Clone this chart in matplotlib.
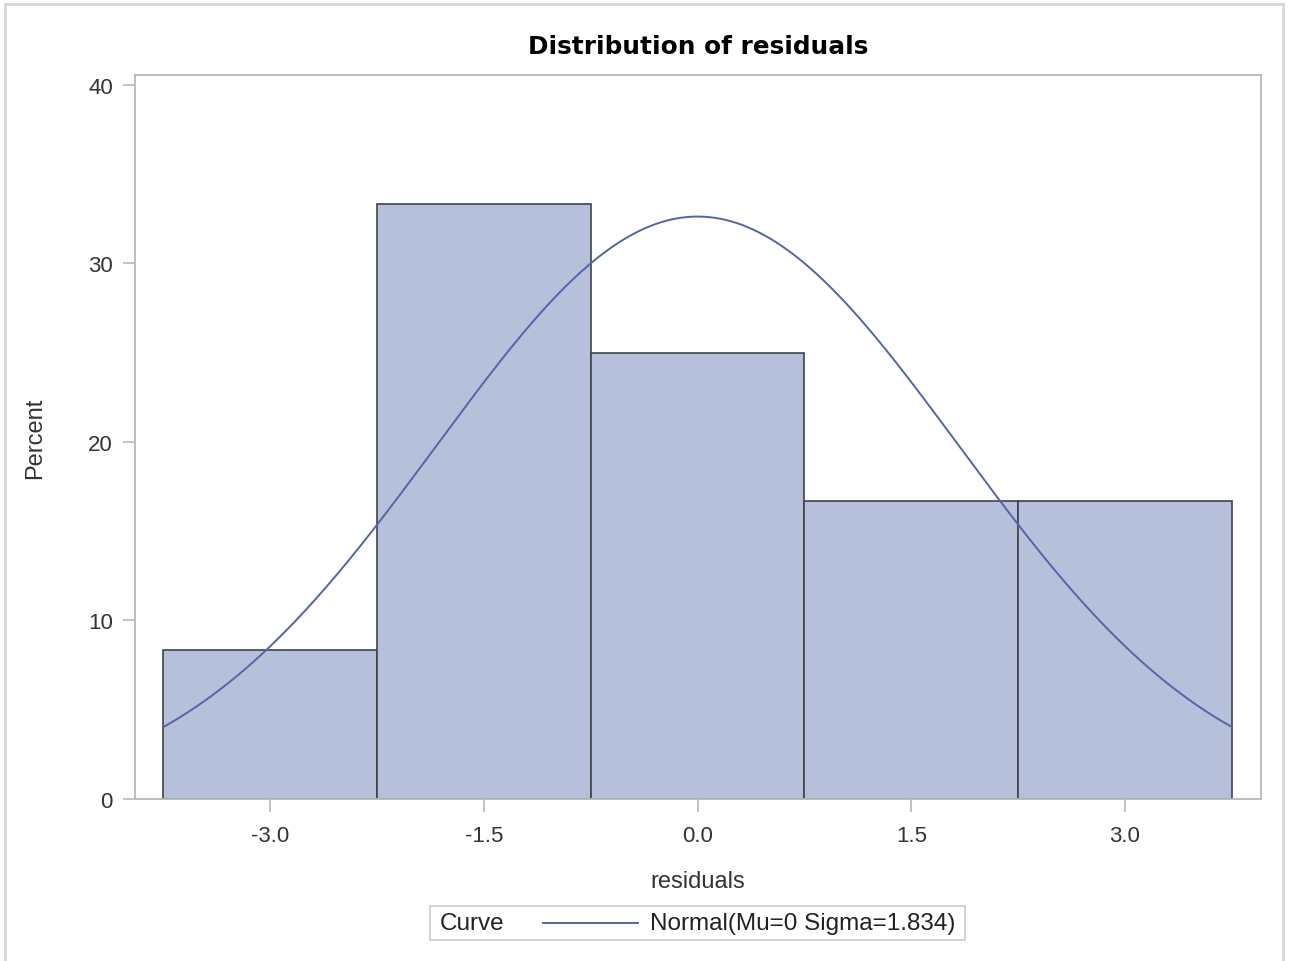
import numpy as np
import matplotlib
matplotlib.use("Agg")
import matplotlib.pyplot as plt
from matplotlib.lines import Line2D
from matplotlib.offsetbox import AnchoredOffsetbox, HPacker, TextArea, DrawingArea

# histogram of residuals (bin midpoints, percent of obs)
midpoints = [-3.0, -1.5, 0.0, 1.5, 3.0]
percents = [8.333, 33.333, 25.0, 16.667, 16.667]
bin_width = 1.5
mu = 0.0
sigma = 1.834
x_ticks = [-3.0, -1.5, 0.0, 1.5, 3.0]
y_ticks = [0, 10, 20, 30, 40]

bar_color = "#B7C0DB"
edge_color = "#3E434C"
curve_color = "#5266A6"
frame_color = "#B4B8BC"

plt.rcParams["font.family"] = ["Liberation Sans", "DejaVu Sans"]

fig = plt.figure(figsize=(12.93, 9.62), dpi=100)
ax = fig.add_axes([135 / 1293, 1 - 800 / 962, (1261 - 135) / 1293, (800 - 76) / 962])

ax.bar(midpoints, percents, width=bin_width, color=bar_color,
       edgecolor=edge_color, linewidth=1.2, zorder=2)

# fitted normal curve, scaled to percent per bin
lo = midpoints[0] - bin_width / 2
hi = midpoints[-1] + bin_width / 2
xs = np.linspace(lo, hi, 400)
ys = 100 * bin_width * np.exp(-0.5 * ((xs - mu) / sigma) ** 2) / (sigma * np.sqrt(2 * np.pi))
ax.plot(xs, ys, color=curve_color, linewidth=1.4, zorder=3)

ax.set_xlim(-3.95, 3.955)
ax.set_ylim(0, 40.56)
ax.set_xticks(x_ticks)
ax.set_xticklabels([f"{t:.1f}" for t in x_ticks])
ax.set_yticks(y_ticks)

for s in ax.spines.values():
    s.set_color(frame_color)
    s.set_linewidth(1.3)
ax.tick_params(axis="both", length=9, width=1.2, color=frame_color,
               labelcolor="#333333", labelsize=16, pad=7)
ax.tick_params(axis="x", pad=10)

ax.set_title("Distribution of residuals", family="DejaVu Sans", fontweight="bold",
             fontsize=17.8, pad=16)
ax.set_xlabel("residuals", fontsize=17, color="#333333", labelpad=17)
ax.set_ylabel("Percent", fontsize=17, color="#333333", labelpad=30)

# legend box: "Curve" + line + label in one row (sizes in points)
txt = dict(fontsize=17.5, color="#222222")
line_area = DrawingArea(68, 10, 0, 0)
line_area.add_artist(Line2D([0, 68], [5, 5], color=curve_color, linewidth=1.4))
entry = HPacker(children=[line_area,
                          TextArea(f"Normal(Mu={mu:g} Sigma={sigma})", textprops=txt)],
                align="center", pad=0, sep=9)
inner = HPacker(children=[TextArea("Curve", textprops=txt), entry],
                align="center", pad=0, sep=28)
row = HPacker(children=[DrawingArea(3, 1, 0, 0), inner, DrawingArea(3, 1, 0, 0)],
              align="center", pad=0, sep=0)
box = AnchoredOffsetbox(loc="center", child=row, pad=0.4, borderpad=0,
                        frameon=True, bbox_to_anchor=(697.5 / 1293, 1 - 924 / 962),
                        bbox_transform=fig.transFigure)
box.patch.set_edgecolor("#CCCCCC")
box.patch.set_linewidth(1.2)
fig.add_artist(box)

# outer border
fig.add_artist(Line2D([4.5 / 1293, 4.5 / 1293], [0, 1 - 5 / 962], transform=fig.transFigure,
                      color="#D8D8D8", linewidth=2))
fig.add_artist(Line2D([4.5 / 1293, 1283 / 1293], [1 - 5 / 962, 1 - 5 / 962],
                      transform=fig.transFigure, color="#D8D8D8", linewidth=2))
fig.add_artist(Line2D([1283 / 1293, 1283 / 1293], [0, 1 - 5 / 962], transform=fig.transFigure,
                      color="#D8D8D8", linewidth=2))

fig.savefig("out.png", dpi=100)
